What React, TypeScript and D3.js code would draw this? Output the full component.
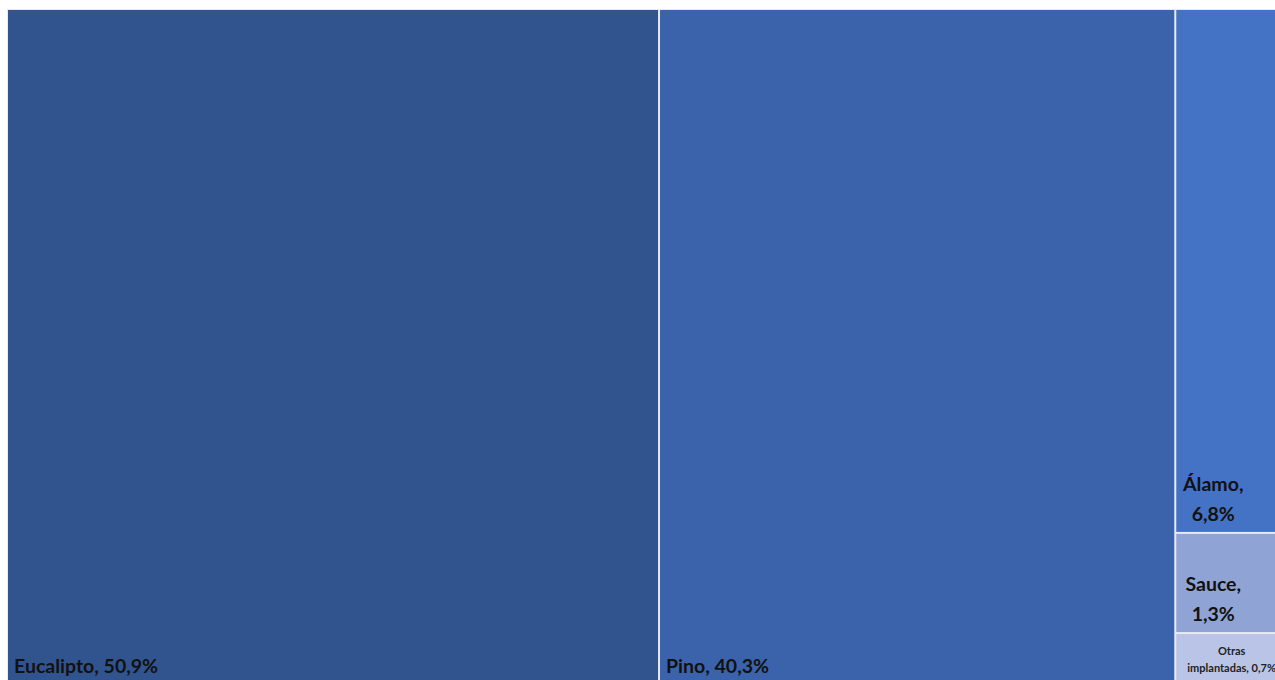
import React from "react";
import * as d3 from "d3";

const categories = ["Eucalipto", "Pino", "Álamo", "Sauce", "Otras implantadas"];
const values = [50.9, 40.3, 6.8, 1.3, 0.7];
const colors = ["#31548F", "#3B63AB", "#4472C4", "#8FA3D5", "#B9C4E6"];
const groupMembers = ["Álamo", "Sauce", "Otras implantadas"];

const W = 1275;
const H = 680;
const X0 = 8, Y0 = 10, X1 = 1287, Y1 = 686;

type Leaf = { name: string; value: number; color: string };

function fmt(v: number) {
  return d3.format(".1f")(v).replace(".", ",") + "%";
}

export default function App() {
  const leaves: Leaf[] = categories.map((c, i) => ({ name: c, value: values[i], color: colors[i] }));
  const data = {
    name: "root",
    children: [
      ...leaves.filter((l) => !groupMembers.includes(l.name)),
      { name: "group", children: leaves.filter((l) => groupMembers.includes(l.name)) },
    ],
  };
  const root = d3
    .hierarchy<any>(data)
    .sum((d: any) => (d.children ? 0 : d.value));
  const tile = (node: any, x0: number, y0: number, x1: number, y1: number) => {
    if (node.depth === 0) d3.treemapDice(node, x0, y0, x1, y1);
    else d3.treemapSlice(node, x0, y0, x1, y1);
  };
  d3.treemap<any>().tile(tile as any).size([X1 - X0, Y1 - Y0]).paddingInner(2).round(false)(root);
  const cells = root.leaves() as any[];

  return (
    <svg width={W} height={H} style={{ display: "block", position: "absolute", left: 0, top: 0 }}>
      <rect x={0} y={0} width={W} height={H} fill="#ffffff" />
      <rect x={X0 - 1} y={Y0 - 1} width={X1 - X0 + 2} height={Y1 - Y0 + 2} fill="#E6EAF2" />
      <g transform={`translate(${X0},${Y0})`}>
        {cells.map((c) => {
          const d = c.data as Leaf;
          const w = c.x1 - c.x0;
          const h = c.y1 - c.y0;
          const label = `${d.name}, ${fmt(d.value)}`;
          let text: React.ReactNode;
          if (w > 200) {
            text = (
              <text x={c.x0 + 6} y={c.y1 - 13} fontSize={19.5} fontWeight="bold" fill="#111">
                {label}
              </text>
            );
          } else if (h > 80) {
            text = (
              <text x={c.x0 + 37} textAnchor="middle" fontSize={19.5} fontWeight="bold" fill="#111">
                <tspan x={c.x0 + 37} y={c.y1 - 41}>{d.name + ","}</tspan>
                <tspan x={c.x0 + 37} y={c.y1 - 11}>{fmt(d.value)}</tspan>
              </text>
            );
          } else {
            const words = d.name.split(" ");
            const cx = (c.x0 + c.x1) / 2;
            text = (
              <text textAnchor="middle" fontSize={11} fontWeight="bold" fill="#222">
                <tspan x={cx} y={c.y0 + 21}>{words[0]}</tspan>
                <tspan x={cx} y={c.y0 + 38}>{`${words.slice(1).join(" ")}, ${fmt(d.value)}`}</tspan>
              </text>
            );
          }
          return (
            <g key={d.name}>
              <rect x={c.x0} y={c.y0} width={w} height={h} fill={d.color} />
              {text}
            </g>
          );
        })}
      </g>
      <style>{`text{font-family:Lato, 'Open Sans', sans-serif;}`}</style>
    </svg>
  );
}
